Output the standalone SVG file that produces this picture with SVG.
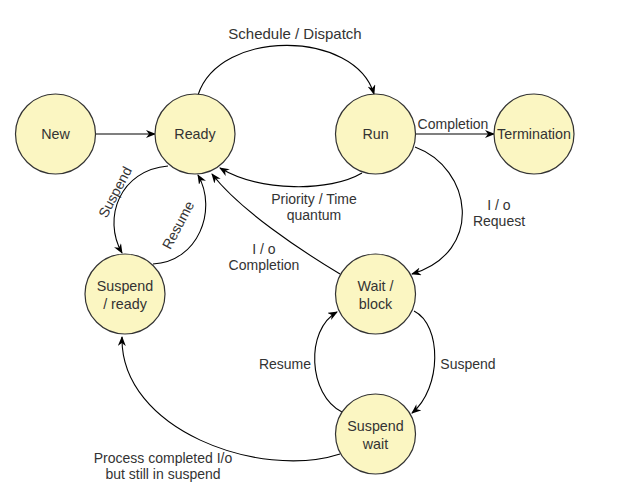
<svg xmlns="http://www.w3.org/2000/svg" width="631" height="493" viewBox="0 0 631 493">
<defs>
<style>
.node{fill:#fbf6c2;stroke:#333;stroke-width:1.2}
.nt{font-family:"Liberation Sans",Arial,sans-serif;font-size:14.3px;fill:#333;text-anchor:middle}
.lb{font-family:"Liberation Sans",Arial,sans-serif;font-size:14px;fill:#333;text-anchor:middle}
.e{fill:none;stroke:#000;stroke-width:1.1;marker-end:url(#ah)}
</style>
<marker id="ah" viewBox="0 0 10 8" refX="9" refY="4" markerWidth="10" markerHeight="8" markerUnits="userSpaceOnUse" orient="auto">
<path d="M0,0 L10,4 L0,8 L3,4 z" fill="#000"/>
</marker>
</defs>
<rect width="631" height="493" fill="#fff"/>
<g id="connectors">
<path class="e" d="M95,134 L155,134"/>
<path class="e" d="M198,95 C220,28 355,30 374,94"/>
<path class="e" d="M415,134 L494,134"/>
<path class="e" d="M362,173 C330,192 260,192 220,168"/>
<path class="e" d="M168,166 C120,170 102,218 122,253"/>
<path class="e" d="M153,264 C198,262 218,210 198,175"/>
<path class="e" d="M340,274 C300,250 240,210 212,174"/>
<path class="e" d="M415,147 C472,168 485,252 412,274"/>
<path class="e" d="M414,311 C442,325 442,388 412,413"/>
<path class="e" d="M342,412 C308,395 305,330 337,312"/>
<path class="e" d="M340,454 C260,480 120,430 122,337"/>
<text class="lb" x="295" y="39" style="font-size:15px">Schedule / Dispatch</text>
<text class="lb" x="453" y="129">Completion</text>
<text class="lb" x="314" y="204">Priority / Time</text>
<text class="lb" x="314" y="220">quantum</text>
<text class="lb" transform="translate(115,192) rotate(-62)" y="5">Suspend</text>
<text class="lb" transform="translate(178,225) rotate(-62)" y="5">Resume</text>
<text class="lb" x="264" y="254">I / o</text>
<text class="lb" x="264" y="270">Completion</text>
<text class="lb" x="499" y="210">I / o</text>
<text class="lb" x="499" y="226">Request</text>
<text class="lb" x="468" y="369">Suspend</text>
<text class="lb" x="285" y="369">Resume</text>
<text class="lb" x="163" y="463">Process completed I/o</text>
<text class="lb" x="163" y="479">but still in suspend</text>
</g>
<g id="new"><circle class="node" cx="55.5" cy="134" r="40"/><text class="nt" x="55.5" y="139">New</text></g>
<g id="ready"><circle class="node" cx="195" cy="134" r="40"/><text class="nt" x="195" y="139">Ready</text></g>
<g id="run"><circle class="node" cx="375.5" cy="134" r="40"/><text class="nt" x="375.5" y="139">Run</text></g>
<g id="termination"><circle class="node" cx="534" cy="134" r="40"/><text class="nt" x="534" y="139">Termination</text></g>
<g id="suspend-ready"><circle class="node" cx="125" cy="294" r="40"/><text class="nt" x="125" y="291">Suspend</text><text class="nt" x="125" y="309">/ ready</text></g>
<g id="wait-block"><circle class="node" cx="375.5" cy="294" r="40"/><text class="nt" x="375.5" y="291">Wait /</text><text class="nt" x="375.5" y="309">block</text></g>
<g id="suspend-wait"><circle class="node" cx="375.5" cy="434" r="40"/><text class="nt" x="375.5" y="431">Suspend</text><text class="nt" x="375.5" y="449">wait</text></g>
</svg>
